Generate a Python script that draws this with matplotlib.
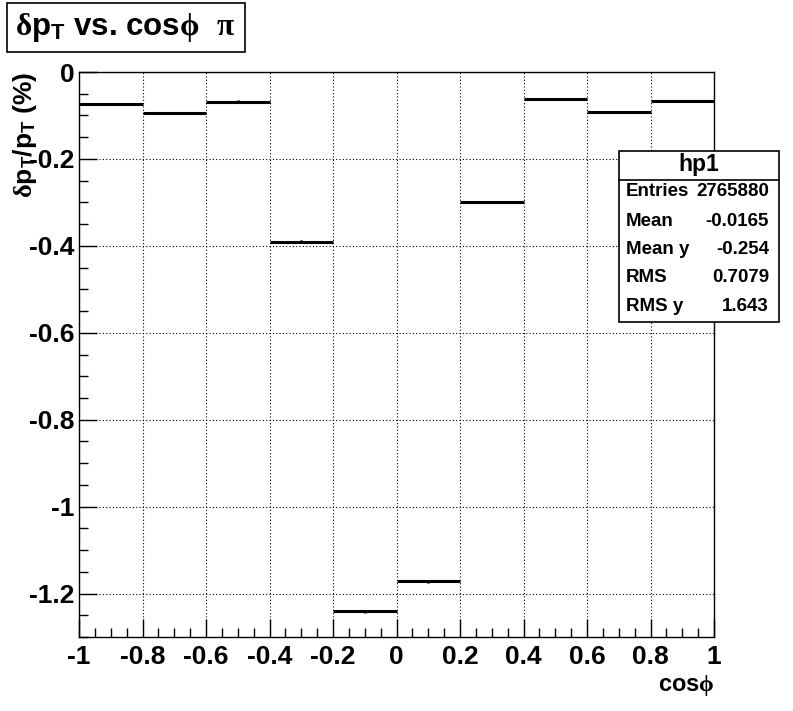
#plot.py
#profile of dpT/pT vs cos(phi), ROOT style
import matplotlib
matplotlib.use("Agg")
import matplotlib.pyplot as plt
from matplotlib.patches import Rectangle
from matplotlib.lines import Line2D
from matplotlib.ticker import MultipleLocator, FuncFormatter

#bin edges and profile means
bin_lo = [-1.0, -0.8, -0.6, -0.4, -0.2, 0.0, 0.2, 0.4, 0.6, 0.8]
bin_hi = [-0.8, -0.6, -0.4, -0.2, 0.0, 0.2, 0.4, 0.6, 0.8, 1.0]
mean_y = [-0.073, -0.094, -0.068, -0.390, -1.241, -1.172, -0.299, -0.062, -0.092, -0.067]
err_y = [0.002, 0.002, 0.003, 0.004, 0.004, 0.004, 0.003, 0.002, 0.002, 0.002]

#stats box
stat_names = ["Entries", "Mean", "Mean y", "RMS", "RMS y"]
stat_values = ["2765880", "-0.0165", "-0.254", "0.7079", "1.643"]

W, H = 793, 711
plt.rcParams["font.family"] = ["Liberation Sans", "DejaVu Sans"]
plt.rcParams["font.weight"] = "bold"
plt.rcParams["axes.unicode_minus"] = False
plt.rcParams["mathtext.fontset"] = "custom"
plt.rcParams["mathtext.rm"] = "Liberation Serif"
plt.rcParams["mathtext.bf"] = "Liberation Sans:bold"
plt.rcParams["mathtext.it"] = "Liberation Serif"

def fx(px):
    return px / W

def fy(py):
    return 1 - py / H

fig = plt.figure(figsize=(W / 100, H / 100), dpi=100)
ax = fig.add_axes([fx(79), fy(637), (714 - 79) / W, (637 - 72) / H])

xc = [(a + b) / 2 for a, b in zip(bin_lo, bin_hi)]
xe = [(b - a) / 2 for a, b in zip(bin_lo, bin_hi)]
ax.errorbar(xc, mean_y, xerr=xe, yerr=err_y, fmt="none",
            ecolor="black", elinewidth=2.2, capsize=0, zorder=3)

ax.set_xlim(-1, 1)
ax.set_ylim(-1.3, 0)
ax.xaxis.set_major_locator(MultipleLocator(0.2))
ax.xaxis.set_minor_locator(MultipleLocator(0.05))
ax.yaxis.set_major_locator(MultipleLocator(0.2))
ax.yaxis.set_minor_locator(MultipleLocator(0.05))
fmt = FuncFormatter(lambda v, p: "%g" % round(v, 3) if abs(v) > 1e-9 else "0")
ax.xaxis.set_major_formatter(fmt)
ax.yaxis.set_major_formatter(fmt)
ax.tick_params(which="major", direction="in", length=13, width=1,
               top=False, right=False, labelsize=19)
ax.tick_params(which="minor", direction="in", length=6.5, width=1,
               top=False, right=False)
ax.tick_params(axis="x", which="major", pad=6)
ax.tick_params(axis="y", which="major", pad=3)
for lab in ax.get_xticklabels() + ax.get_yticklabels():
    lab.set_fontweight("bold")
ax.grid(which="major", linestyle=(0, (1, 2)), color="black", linewidth=0.8)
for s in ax.spines.values():
    s.set_linewidth(1)
    s.set_color("black")

#axis titles
fig.text(fx(714), fy(686), r"cos$\mathrm{\phi}$", ha="right", va="center",
         fontsize=17, fontweight="bold")
fig.text(fx(25), fy(72), r"$\mathrm{\delta}\mathbf{p}_\mathbf{T}\mathbf{/p}_\mathbf{T}$ (%)",
         ha="center", va="top", rotation=90, fontsize=19, fontweight="bold")

#title box
fig.patches.append(Rectangle((fx(7), fy(52)), (245 - 7) / W, (52 - 3) / H,
                             transform=fig.transFigure, facecolor="white",
                             edgecolor="black", linewidth=1.2))
fig.text(fx(15), fy(27), r"$\mathrm{\delta}\mathbf{p}_\mathbf{T}$ vs. cos$\mathrm{\phi}$  $\mathrm{\pi}$",
         ha="left", va="center", fontsize=22.5, fontweight="bold")

#stats box
fig.patches.append(Rectangle((fx(619), fy(322)), (779 - 619) / W, (322 - 151) / H,
                             transform=fig.transFigure, facecolor="white",
                             edgecolor="black", linewidth=1.2, zorder=5))
fig.lines.append(Line2D([fx(619), fx(779)], [fy(180), fy(180)],
                        transform=fig.transFigure, color="black", linewidth=1.2, zorder=6))
fig.text(fx(699), fy(165), "hp1", ha="center", va="center", fontsize=16.5,
         fontweight="bold", zorder=7)
rows = [192, 221, 250, 278, 306]
for name, val, r in zip(stat_names, stat_values, rows):
    fig.text(fx(626), fy(r), name, ha="left", va="center", fontsize=13.5,
             fontweight="bold", zorder=7)
    fig.text(fx(769), fy(r), val, ha="right", va="center", fontsize=13.5,
             fontweight="bold", zorder=7)

fig.savefig("out.png", dpi=100)
